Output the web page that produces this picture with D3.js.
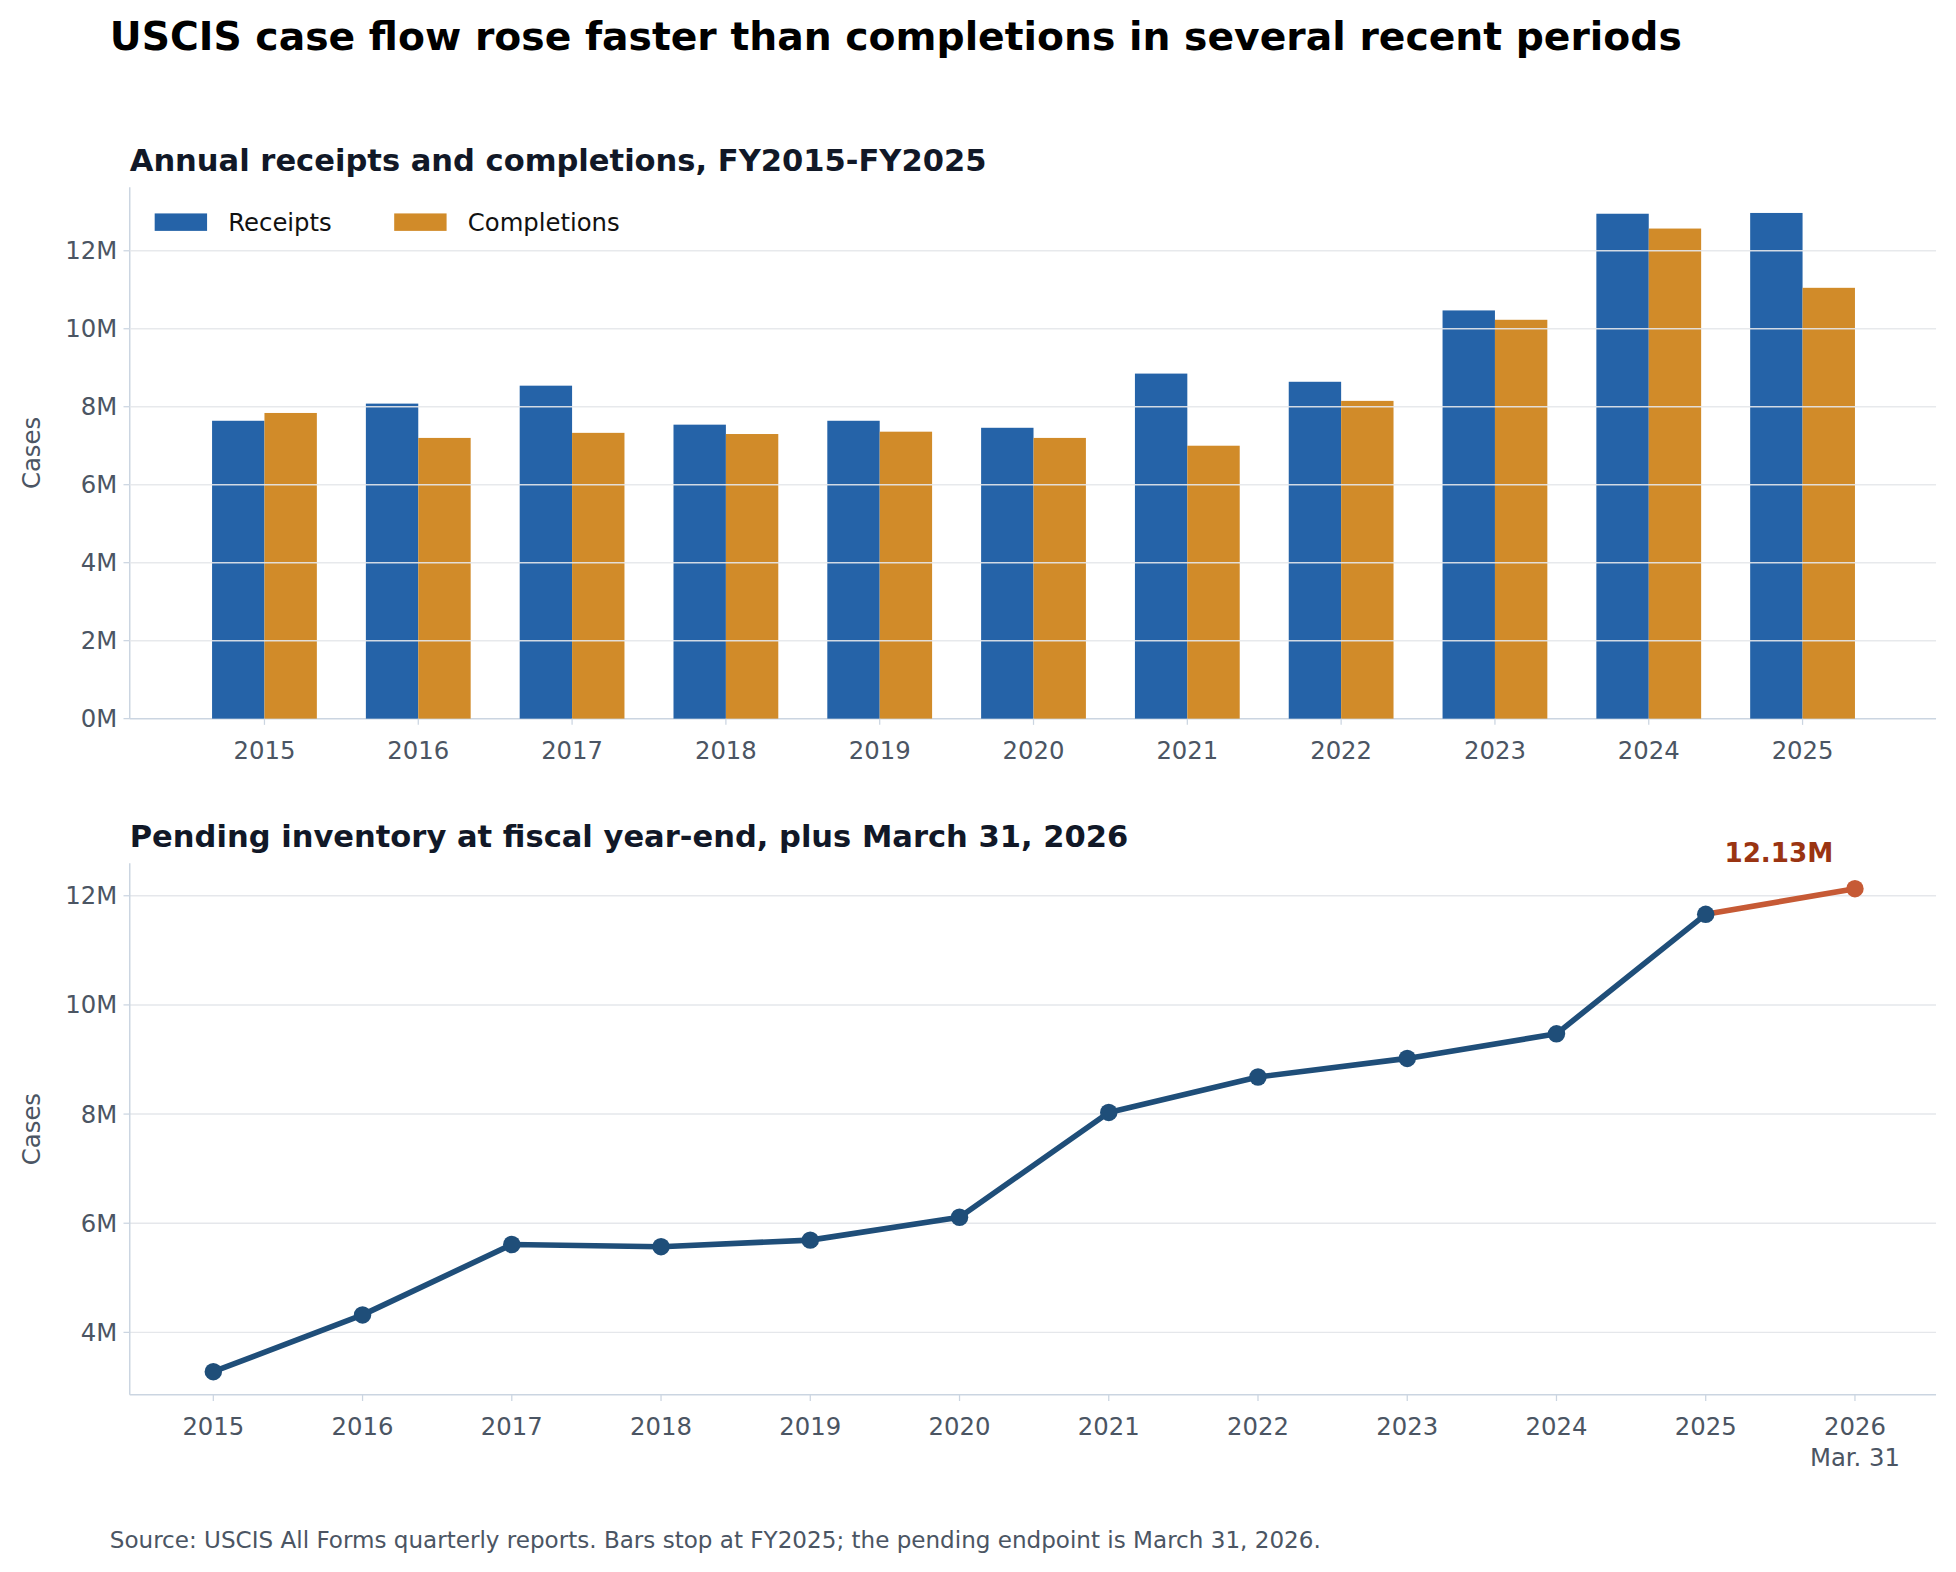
<!DOCTYPE html>
<html><head><meta charset="utf-8">
<script src="https://cdn.jsdelivr.net/npm/d3@7"></script>
<style>body{margin:0;background:#fff}text{font-family:"DejaVu Sans",sans-serif}</style>
</head><body><svg id="chart" width="1956" height="1572" viewBox="0 0 1568 1260"></svg>
<script>
const YEARS = [2015, 2016, 2017, 2018, 2019, 2020, 2021, 2022, 2023, 2024, 2025];
const RECEIPTS = [7.64, 8.08, 8.54, 7.54, 7.64, 7.46, 8.85, 8.64, 10.47, 12.95, 12.97];
const COMPLETIONS = [7.84, 7.20, 7.33, 7.30, 7.36, 7.20, 7.00, 8.15, 10.23, 12.57, 11.05];
const PENDING_YEARS = [2015, 2016, 2017, 2018, 2019, 2020, 2021, 2022, 2023, 2024, 2025, 2026];
const PENDING = [3.28, 4.32, 5.61, 5.57, 5.69, 6.11, 8.03, 8.68, 9.02, 9.47, 11.66, 12.13];
const BAR_TICKS = [0, 2, 4, 6, 8, 10, 12];
const LINE_TICKS = [4, 6, 8, 10, 12];

const BLUE = "#2563a8", ORANGE = "#d18b29", NAVY = "#1f4e79", RED = "#c65a35";
const AXIS = "#cbd5e1", GRID = "#e5e7eb", TICK = "#4b5563";
const FS = "19.5px";
const svg = d3.select("#chart");

svg.append("text").attr("x", 88).attr("y", 40).text("USCIS case flow rose faster than completions in several recent periods")
  .style("font-size", "31.5px").style("font-weight", "bold").style("fill", "#000");

function frame(g, x0, x1, y0, y1, y, ticks, title) {
  g.append("text").attr("x", x0).attr("y", y0 - 13).text(title)
    .style("font-size", "24.5px").style("font-weight", "bold").style("fill", "#111827");
  g.append("text").attr("transform", `translate(32,${(y0 + y1) / 2}) rotate(-90)`)
    .attr("text-anchor", "middle").text("Cases").style("font-size", FS).style("fill", TICK);
  ticks.forEach(t => {
    g.append("text").attr("x", x0 - 10).attr("y", y(t)).attr("dy", "0.35em").attr("text-anchor", "end")
      .text(t + "M").style("font-size", FS).style("fill", TICK);
    g.append("line").attr("x1", x0 - 5).attr("x2", x0).attr("y1", y(t)).attr("y2", y(t)).attr("stroke", AXIS);
  });
  g.append("line").attr("x1", x0).attr("x2", x0).attr("y1", y0).attr("y2", y1).attr("stroke", AXIS).attr("stroke-width", 1.2);
  g.append("line").attr("x1", x0).attr("x2", x1).attr("y1", y1).attr("y2", y1).attr("stroke", AXIS).attr("stroke-width", 1.2);
}

// top: bars
{
  const L = 104, R = 1552, T = 150, B = 576;
  const g = svg.append("g");
  const y = d3.scaleLinear().domain([0, 13.63]).range([B, T]);
  const step = 123.3;
  const x = d3.scaleLinear().domain([2015, 2025]).range([212, 212 + 10 * step]);
  const bw = 42;
  frame(g, L, R, T, B, y, BAR_TICKS, "Annual receipts and completions, FY2015-FY2025");
  g.selectAll(".r").data(YEARS).join("rect").attr("x", d => x(d) - bw).attr("width", bw)
    .attr("y", (d, i) => y(RECEIPTS[i])).attr("height", (d, i) => B - y(RECEIPTS[i])).attr("fill", BLUE);
  g.selectAll(".c").data(YEARS).join("rect").attr("x", d => x(d)).attr("width", bw)
    .attr("y", (d, i) => y(COMPLETIONS[i])).attr("height", (d, i) => B - y(COMPLETIONS[i])).attr("fill", ORANGE);
  BAR_TICKS.filter(t => t > 0).forEach(t => g.append("line").attr("x1", L).attr("x2", R)
    .attr("y1", y(t)).attr("y2", y(t)).attr("stroke", GRID).attr("stroke-width", 1.2).attr("opacity", 0.9));
  YEARS.forEach(d => {
    g.append("line").attr("x1", x(d)).attr("x2", x(d)).attr("y1", B).attr("y2", B + 5).attr("stroke", AXIS);
    g.append("text").attr("x", x(d)).attr("y", B + 32).attr("text-anchor", "middle").text(d)
      .style("font-size", FS).style("fill", TICK);
  });
  [["Receipts", BLUE, 124], ["Completions", ORANGE, 316]].forEach(([n, c, lx]) => {
    g.append("rect").attr("x", lx).attr("y", 171).attr("width", 42).attr("height", 14).attr("fill", c);
    g.append("text").attr("x", lx + 59).attr("y", 178).attr("dy", "0.35em").text(n).style("font-size", FS).style("fill", "#111");
  });
}

// bottom: line
{
  const L = 104, R = 1552, T = 692, B = 1118;
  const g = svg.append("g");
  const y = d3.scaleLinear().domain([2.857, 12.594]).range([B, T]);
  const x = d3.scaleLinear().domain([2015, 2026]).range([171, 1487]);
  LINE_TICKS.forEach(t => g.append("line").attr("x1", L).attr("x2", R)
    .attr("y1", y(t)).attr("y2", y(t)).attr("stroke", GRID).attr("stroke-width", 1.2));
  frame(g, L, R, T, B, y, LINE_TICKS, "Pending inventory at fiscal year-end, plus March 31, 2026");
  const pts = PENDING_YEARS.map((d, i) => [d, PENDING[i]]);
  const line = d3.line().x(d => x(d[0])).y(d => y(d[1]));
  g.append("path").attr("d", line(pts.slice(0, 11))).attr("fill", "none").attr("stroke", NAVY).attr("stroke-width", 4.5).attr("stroke-linejoin", "round");
  g.append("path").attr("d", line(pts.slice(10))).attr("fill", "none").attr("stroke", RED).attr("stroke-width", 4.5);
  g.selectAll("circle").data(pts).join("circle").attr("cx", d => x(d[0])).attr("cy", d => y(d[1])).attr("r", 7)
    .attr("fill", (d, i) => i === 11 ? RED : NAVY);
  const last = pts[11];
  g.append("text").attr("x", x(last[0]) - 61).attr("y", y(last[1]) - 21).attr("text-anchor", "middle")
    .text(last[1].toFixed(2) + "M").style("font-size", "21px").style("font-weight", "bold").style("fill", "#9a3412");
  PENDING_YEARS.forEach(d => {
    g.append("line").attr("x1", x(d)).attr("x2", x(d)).attr("y1", B).attr("y2", B + 5).attr("stroke", AXIS);
    g.append("text").attr("x", x(d)).attr("y", B + 32).attr("text-anchor", "middle").text(d)
      .style("font-size", FS).style("fill", TICK);
  });
  g.append("text").attr("x", x(2026)).attr("y", B + 57).attr("text-anchor", "middle").text("Mar. 31")
    .style("font-size", FS).style("fill", TICK);
}

svg.append("text").attr("x", 88).attr("y", 1241).text("Source: USCIS All Forms quarterly reports. Bars stop at FY2025; the pending endpoint is March 31, 2026.")
  .style("font-size", "18.5px").style("fill", TICK);
</script></body></html>
